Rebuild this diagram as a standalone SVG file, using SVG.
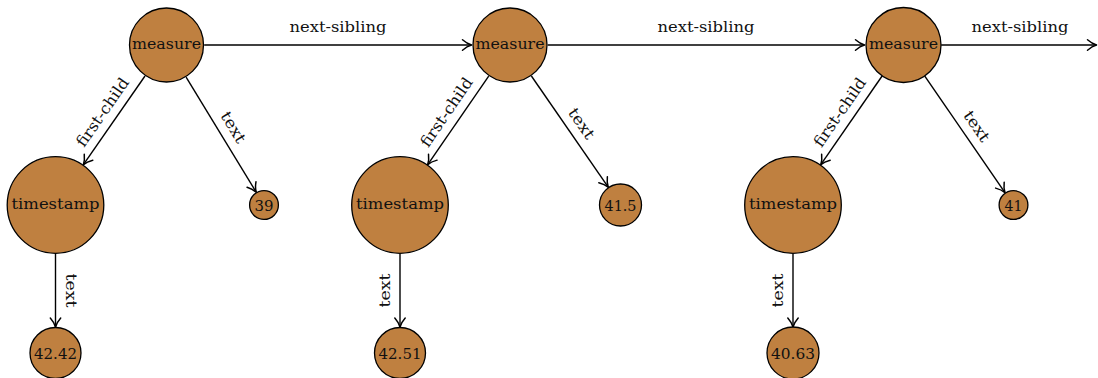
<svg xmlns="http://www.w3.org/2000/svg" width="1098" height="378" viewBox="0 0 1098 378">
<style>
.n{fill:#BF8040;stroke:#000;stroke-width:1.3}
.t{font-family:"DejaVu Serif","Liberation Serif",serif;font-size:15.5px;fill:#111;text-anchor:middle}
.e{stroke:#000;stroke-width:1.4;fill:none;marker-end:url(#arr)}
</style>
<defs>
<marker id="arr" markerUnits="userSpaceOnUse" markerWidth="14" markerHeight="14" viewBox="-10 -7 12 14" refX="0" refY="0" orient="auto" overflow="visible">
<path d="M-9,-5.2 C-6,-2.6 -2.5,-0.7 0,0 C-2.5,0.7 -6,2.6 -9,5.2" fill="none" stroke="#000" stroke-width="1.5" stroke-linecap="round" stroke-linejoin="round"/>
</marker>
</defs>
<rect width="1098" height="378" fill="#fff"/>
<g id="connectors">
<line class="e" x1="145.0" y1="76.0" x2="83.4" y2="164.7"/>
<line class="e" x1="186.1" y1="77.2" x2="256.2" y2="192.2"/>
<line class="e" x1="55.5" y1="254" x2="55.5" y2="327"/>
<line class="e" x1="204.2" y1="45" x2="471.5" y2="45"/>
<line class="e" x1="488.7" y1="76.1" x2="427.7" y2="164.6"/>
<line class="e" x1="531.4" y1="76.0" x2="608.2" y2="187.1"/>
<line class="e" x1="400" y1="254" x2="400" y2="327"/>
<line class="e" x1="547.7" y1="45" x2="864.5" y2="45"/>
<line class="e" x1="882.1" y1="76.0" x2="820.8" y2="164.7"/>
<line class="e" x1="924.8" y1="76.1" x2="1005" y2="192.6"/>
<line class="e" x1="793" y1="254" x2="793" y2="327"/>
<line class="e" x1="941.2" y1="45" x2="1096.5" y2="45"/>
<text class="t" x="338" y="32" textLength="97" lengthAdjust="spacingAndGlyphs">next-sibling</text>
<text class="t" x="706" y="32" textLength="97" lengthAdjust="spacingAndGlyphs">next-sibling</text>
<text class="t" x="1020" y="32" textLength="97" lengthAdjust="spacingAndGlyphs">next-sibling</text>
<text class="t" transform="translate(114.2,120.4) rotate(-55.25)" x="0" y="-9" textLength="80" lengthAdjust="spacingAndGlyphs">first-child</text>
<text class="t" transform="translate(458.2,120.3) rotate(-55.5)" x="0" y="-9" textLength="80" lengthAdjust="spacingAndGlyphs">first-child</text>
<text class="t" transform="translate(851.5,120.4) rotate(-55.4)" x="0" y="-9" textLength="80" lengthAdjust="spacingAndGlyphs">first-child</text>
<text class="t" transform="translate(221.2,134.7) rotate(58.6)" x="0" y="-9" textLength="34" lengthAdjust="spacingAndGlyphs">text</text>
<text class="t" transform="translate(569.8,131.6) rotate(55.4)" x="0" y="-9" textLength="34" lengthAdjust="spacingAndGlyphs">text</text>
<text class="t" transform="translate(964.9,134.4) rotate(55.5)" x="0" y="-9" textLength="34" lengthAdjust="spacingAndGlyphs">text</text>
<text class="t" transform="translate(65.5,290.5) rotate(90)" x="0" y="0" textLength="34" lengthAdjust="spacingAndGlyphs">text</text>
<text class="t" transform="translate(390,290.5) rotate(-90)" x="0" y="0" textLength="34" lengthAdjust="spacingAndGlyphs">text</text>
<text class="t" transform="translate(783,290.5) rotate(-90)" x="0" y="0" textLength="34" lengthAdjust="spacingAndGlyphs">text</text>
</g>
<g id="measure1"><circle class="n" cx="166.5" cy="45" r="37"/><text class="t" x="166.5" y="49" textLength="69" lengthAdjust="spacingAndGlyphs">measure</text></g>
<g id="timestamp1"><circle class="n" cx="55.5" cy="205" r="48.3"/><text class="t" x="55.5" y="209" textLength="88" lengthAdjust="spacingAndGlyphs">timestamp</text></g>
<g id="val39"><circle class="n" cx="264" cy="205" r="14.4"/><text class="t" x="264" y="210.5" textLength="19" lengthAdjust="spacingAndGlyphs">39</text></g>
<g id="val4242"><circle class="n" cx="55.5" cy="353" r="25.5"/><text class="t" x="55.5" y="358.5" textLength="43" lengthAdjust="spacingAndGlyphs">42.42</text></g>
<g id="measure2"><circle class="n" cx="510" cy="45" r="37"/><text class="t" x="510" y="49" textLength="69" lengthAdjust="spacingAndGlyphs">measure</text></g>
<g id="timestamp2"><circle class="n" cx="400" cy="205" r="48.3"/><text class="t" x="400" y="209" textLength="88" lengthAdjust="spacingAndGlyphs">timestamp</text></g>
<g id="val415"><circle class="n" cx="620.5" cy="205" r="21"/><text class="t" x="620.5" y="210.5" textLength="32" lengthAdjust="spacingAndGlyphs">41.5</text></g>
<g id="val4251"><circle class="n" cx="400" cy="353" r="25.5"/><text class="t" x="400" y="358.5" textLength="43" lengthAdjust="spacingAndGlyphs">42.51</text></g>
<g id="measure3"><circle class="n" cx="903.5" cy="45" r="37.5"/><text class="t" x="903.5" y="49" textLength="69" lengthAdjust="spacingAndGlyphs">measure</text></g>
<g id="timestamp3"><circle class="n" cx="793" cy="205" r="48.3"/><text class="t" x="793" y="209" textLength="88" lengthAdjust="spacingAndGlyphs">timestamp</text></g>
<g id="val41"><circle class="n" cx="1013.5" cy="205" r="14.4"/><text class="t" x="1013.5" y="210.5" textLength="18" lengthAdjust="spacingAndGlyphs">41</text></g>
<g id="val4063"><circle class="n" cx="793" cy="353" r="26"/><text class="t" x="793" y="358.5" textLength="44" lengthAdjust="spacingAndGlyphs">40.63</text></g>
</svg>
